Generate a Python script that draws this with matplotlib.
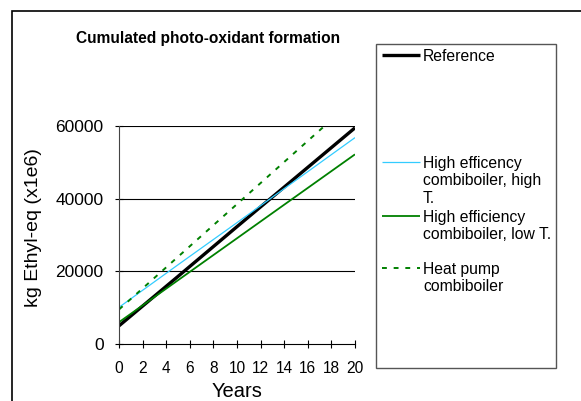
import numpy as np
import matplotlib.pyplot as plt
from matplotlib.lines import Line2D
from matplotlib.patches import Rectangle
from matplotlib.ticker import FormatStrFormatter

plt.rcParams['font.family'] = ['Liberation Sans', 'DejaVu Sans']

# values (kg Ethyl-eq x1e6)
years = [0, 5, 10, 15, 20]
reference = [5000, 18600, 32300, 45900, 59500]
high_t = [10100, 21800, 33400, 45100, 56800]
low_t = [6000, 17550, 29100, 40650, 52200]
heat_pump = [9500, 24000, 38500, 53000, 67500]

names = ["Reference",
         "High efficency\ncombiboiler, high\nT.",
         "High efficiency\ncombiboiler, low T.",
         "Heat pump\ncombiboiler"]
series = [reference, high_t, low_t, heat_pump]

colors = ["black", "#33CCFF", "#008000", "#008000"]
widths = [2.4, 0.9, 1.3, 1.4]
dashes = [None, None, None, (2.5, 3.5)]

W, H = 581, 401


def fx(x):
    return x / W


def fy(y):
    return 1 - y / H


fig = plt.figure(figsize=(W / 100, H / 100), dpi=100)
ax = fig.add_axes([fx(119), fy(344), fx(355) - fx(119), fy(126) - fy(344)])

for vals, c, lw, d in zip(series, colors, widths, dashes):
    line, = ax.plot(years, vals, color=c, lw=lw, solid_capstyle='butt')
    if d:
        line.set_dashes(d)

ax.set_xlim(0, 20)
ax.set_ylim(0, 60000)
ax.set_xticks(np.arange(0, 21, 2))
ax.set_yticks([0, 20000, 40000, 60000])
ax.yaxis.set_major_formatter(FormatStrFormatter('%d'))
for yv in [20000, 40000, 60000]:
    ax.axhline(yv, color='black', lw=0.8, zorder=0)

for s in ['top', 'right']:
    ax.spines[s].set_visible(False)
ax.spines['left'].set_color('#444444')
ax.spines['bottom'].set_color('black')
ax.tick_params(axis='x', direction='inout', length=6, pad=9, labelsize=11.2)
ax.tick_params(axis='y', direction='inout', length=6, pad=8, labelsize=12.5)

ax.set_xlabel("Years", fontsize=14.5)
ax.set_ylabel("kg Ethyl-eq (x1e6)", fontsize=14)
ax.xaxis.label.set_va('center')
ax.yaxis.label.set_va('center')
ax.xaxis.set_label_coords(0.5, -0.216)
ax.yaxis.set_label_coords(-0.364, 0.535)

fig.text(fx(208), fy(39), "Cumulated photo-oxidant formation",
         ha='center', va='center', fontsize=11.2, fontweight='bold')

# outer frame
fig.add_artist(Rectangle((fx(12), -0.1), 1.2, fy(11) + 0.1,
                         transform=fig.transFigure, fill=False,
                         edgecolor='black', lw=1.2))

# legend box drawn by hand to keep Excel's spacing
fig.add_artist(Rectangle((fx(376), fy(368)), fx(556) - fx(376),
                         fy(44) - fy(368), transform=fig.transFigure,
                         fill=False, edgecolor='#555555', lw=1.0))
entry_y = [55, 162, 216, 268]
for name, y, c, lw, d in zip(names, entry_y, colors, widths, dashes):
    h = Line2D([fx(382), fx(420)], [fy(y), fy(y)], color=c, lw=lw,
               transform=fig.transFigure, solid_capstyle='butt')
    if d:
        h.set_dashes(d)
    fig.add_artist(h)
    fig.text(fx(423), fy(y - 6), name, ha='left', va='top', fontsize=11.3,
             linespacing=1.2)

fig.savefig("out.png", dpi=100)
